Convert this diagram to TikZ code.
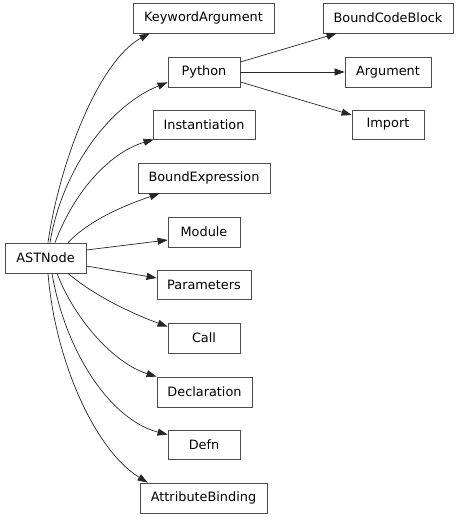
\documentclass[tikz,border=0pt]{standalone}
\usepackage{fontspec}
\setmainfont{DejaVu Sans}
\usetikzlibrary{arrows.meta,calc}
\begin{document}
\begin{tikzpicture}[x=1bp,y=-1bp,
  box/.style={draw=black!70,line width=0.8bp,fill=white,inner sep=0pt,minimum height=30bp,
    font=\fontsize{12.9}{15}\selectfont,text=black},
  edge/.style={draw=black!85,line width=0.7bp,-{Triangle[length=10bp,width=7bp]}}]
\useasboundingbox (0,0) rectangle (459,521);
% nodes
\node[box,minimum width=141bp] (ka)   at (203.5,18)  {KeywordArgument};
\node[box,minimum width=72bp]  (py)   at (204,72)    {Python};
\node[box,minimum width=102bp,minimum height=29bp] (inst) at (204,124.5) {Instantiation};
\node[box,minimum width=132bp] (be)   at (204,178)   {BoundExpression};
\node[box,minimum width=72bp]  (mod)  at (204,232)   {Module};
\node[box,minimum width=81bp]  (ast)  at (45.5,258)  {ASTNode};
\node[box,minimum width=94bp,minimum height=29bp]  (par)  at (204,284.5) {Parameters};
\node[box,minimum width=72bp]  (call) at (204,338)   {Call};
\node[box,minimum width=95bp]  (decl) at (204.5,392) {Declaration};
\node[box,minimum width=72bp,minimum height=29bp]  (defn) at (204,444.5) {Defn};
\node[box,minimum width=127bp] (ab)   at (203.5,498) {AttributeBinding};
\node[box,minimum width=130bp] (bcb)  at (388,18)    {BoundCodeBlock};
\node[box,minimum width=86bp]  (arg)  at (388,72)    {Argument};
\node[box,minimum width=72bp,minimum height=29bp]  (imp)  at (388,124.5) {Import};
% edges from ASTNode
\draw[edge] ([xshift=2.5bp]ast.north) .. controls +(12,-83) and +(-50,27) .. ([xshift=17bp]ka.south west);
\draw[edge] ([xshift=4.5bp]ast.north) .. controls +(12,-73) and +(-58,23) .. ([yshift=5bp]py.south west);
\draw[edge] ([xshift=9.5bp]ast.north) .. controls +(20,-53) and +(-43,13) .. ([xshift=1bp]inst.south west);
\draw[edge] ([xshift=22.5bp]ast.north) .. controls +(22,-23) and +(-35,12) .. ([xshift=22bp]be.south west);
\draw[edge] ([yshift=8bp]ast.east) -- ([yshift=-8bp]mod.west);
\draw[edge] ([yshift=-8bp]ast.east) -- ([yshift=6.5bp]par.west);
\draw[edge] ([xshift=22.5bp]ast.south) .. controls +(27,23) and +(-33,-12) .. ([yshift=-4bp]call.north west);
\draw[edge] ([xshift=11.5bp]ast.south) .. controls +(18,47) and +(-42,-13) .. (decl.north west);
\draw[edge] ([xshift=6.5bp]ast.south) .. controls +(13,77) and +(-58,-15) .. ([yshift=-5bp]defn.north west);
\draw[edge] ([xshift=2.5bp]ast.south) .. controls +(7,87) and +(-53,-33) .. ([xshift=8bp]ab.north west);
% edges from Python
\draw[edge] ([yshift=10bp]py.east) -- ([xshift=14bp]bcb.south west);
\draw[edge] (py.east) -- (arg.west);
\draw[edge] ([yshift=-10bp]py.east) -- ([yshift=9.5bp]imp.west);
\end{tikzpicture}
\end{document}
